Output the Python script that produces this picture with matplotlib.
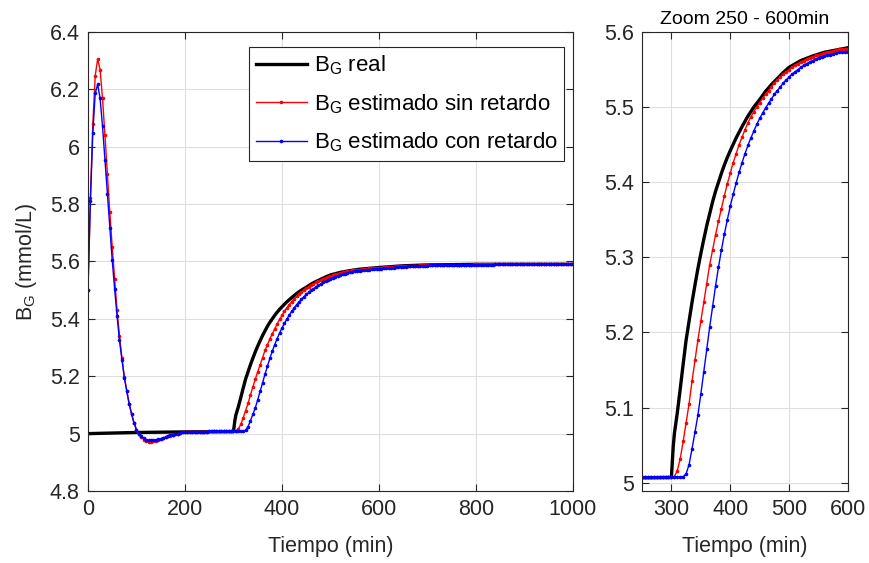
import numpy as np
import matplotlib
matplotlib.use('Agg')
import matplotlib.pyplot as plt

plt.rcParams['font.family'] = ['Liberation Sans', 'DejaVu Sans']
plt.rcParams['mathtext.fontset'] = 'custom'
plt.rcParams['mathtext.rm'] = 'Liberation Sans'

# --- datos ---
# muestreo de los estimadores cada 5 min
t_est = np.arange(0, 1001, 5)

bg_sin_retardo = [
    5.5, 5.82, 6.078, 6.248, 6.306, 6.269, 6.169, 6.041, 5.905, 5.773, 5.652, 5.539,
    5.43, 5.34, 5.265, 5.198, 5.149, 5.104, 5.068, 5.037, 5.013, 4.998, 4.987, 4.979,
    4.974, 4.972, 4.972, 4.973, 4.975, 4.978, 4.981, 4.984, 4.987, 4.99, 4.993, 4.996,
    4.998, 5.0, 5.002, 5.004, 5.005, 5.006, 5.006, 5.007, 5.007, 5.007, 5.007, 5.007,
    5.007, 5.007, 5.008, 5.008, 5.008, 5.008, 5.008, 5.008, 5.008, 5.008, 5.008, 5.008,
    5.008, 5.008, 5.016, 5.032, 5.055, 5.08, 5.105, 5.135, 5.163, 5.19, 5.215, 5.24,
    5.265, 5.29, 5.31, 5.33, 5.348, 5.365, 5.382, 5.398, 5.412, 5.426, 5.438, 5.45,
    5.46, 5.47, 5.479, 5.487, 5.494, 5.5, 5.506, 5.512, 5.517, 5.522, 5.527, 5.532,
    5.536, 5.54, 5.544, 5.547, 5.55, 5.553, 5.556, 5.558, 5.56, 5.562, 5.564, 5.566,
    5.567, 5.569, 5.57, 5.571, 5.572, 5.573, 5.574, 5.575, 5.576, 5.577, 5.577, 5.578,
    5.578, 5.579, 5.58, 5.58, 5.581, 5.582, 5.582, 5.583, 5.583, 5.584, 5.584, 5.585,
    5.585, 5.585, 5.586, 5.586, 5.586, 5.587, 5.587, 5.587, 5.588, 5.588, 5.588, 5.588,
    5.589, 5.589, 5.589, 5.589, 5.589, 5.589, 5.589, 5.589, 5.589, 5.589, 5.589, 5.589,
    5.589, 5.589, 5.589, 5.59, 5.59, 5.59, 5.59, 5.59, 5.59, 5.59, 5.59, 5.59,
    5.59, 5.59, 5.59, 5.59, 5.59, 5.59, 5.59, 5.59, 5.59, 5.59, 5.59, 5.59,
    5.59, 5.59, 5.59, 5.59, 5.59, 5.59, 5.59, 5.59, 5.59, 5.59, 5.59, 5.59,
    5.59, 5.59, 5.59, 5.59, 5.59, 5.59, 5.59, 5.59, 5.59,
]

bg_con_retardo = [
    5.5, 5.81, 6.047, 6.186, 6.218, 6.169, 6.072, 5.954, 5.835, 5.716, 5.605, 5.504,
    5.41, 5.325, 5.258, 5.195, 5.148, 5.103, 5.068, 5.037, 5.014, 5.0, 4.99, 4.983,
    4.979, 4.977, 4.977, 4.977, 4.978, 4.98, 4.982, 4.985, 4.988, 4.991, 4.994, 4.996,
    4.998, 5.0, 5.002, 5.004, 5.005, 5.006, 5.006, 5.007, 5.007, 5.007, 5.007, 5.007,
    5.007, 5.007, 5.008, 5.008, 5.008, 5.008, 5.008, 5.008, 5.008, 5.008, 5.008, 5.008,
    5.008, 5.008, 5.008, 5.008, 5.008, 5.012, 5.024, 5.045, 5.067, 5.09, 5.118, 5.148,
    5.178, 5.207, 5.235, 5.262, 5.287, 5.31, 5.331, 5.35, 5.368, 5.384, 5.399, 5.413,
    5.426, 5.438, 5.449, 5.459, 5.468, 5.477, 5.485, 5.492, 5.499, 5.505, 5.511, 5.517,
    5.522, 5.527, 5.532, 5.536, 5.54, 5.544, 5.547, 5.55, 5.553, 5.556, 5.558, 5.56,
    5.562, 5.564, 5.566, 5.567, 5.568, 5.569, 5.57, 5.571, 5.572, 5.573, 5.573, 5.574,
    5.574, 5.575, 5.576, 5.577, 5.578, 5.579, 5.579, 5.58, 5.581, 5.581, 5.582, 5.582,
    5.583, 5.583, 5.584, 5.584, 5.585, 5.585, 5.586, 5.586, 5.586, 5.587, 5.587, 5.587,
    5.588, 5.588, 5.588, 5.588, 5.588, 5.588, 5.588, 5.589, 5.589, 5.589, 5.589, 5.589,
    5.589, 5.589, 5.589, 5.589, 5.589, 5.589, 5.589, 5.589, 5.589, 5.589, 5.589, 5.589,
    5.59, 5.59, 5.59, 5.59, 5.59, 5.59, 5.59, 5.59, 5.59, 5.59, 5.59, 5.59,
    5.59, 5.59, 5.59, 5.59, 5.59, 5.59, 5.59, 5.59, 5.59, 5.59, 5.59, 5.59,
    5.59, 5.59, 5.59, 5.59, 5.59, 5.59, 5.59, 5.59, 5.59,
]

t_real = [0, 50, 100, 150, 200, 250, 300, 303, 305, 310, 315, 320, 325, 330, 335,
          340, 345, 350, 355, 360, 365, 370, 375, 380, 385, 390, 395, 400, 410, 420,
          430, 440, 450, 460, 470, 480, 490, 500, 520, 540, 560, 580, 600, 650, 700,
          750, 800, 900, 1000]
bg_real = [5.0, 5.002, 5.004, 5.005, 5.006, 5.0065, 5.007, 5.047, 5.065, 5.093, 5.125,
           5.158, 5.19, 5.215, 5.24, 5.263, 5.285, 5.305, 5.324, 5.342, 5.358, 5.374,
           5.388, 5.4, 5.412, 5.423, 5.433, 5.442, 5.459, 5.474, 5.488, 5.5, 5.51,
           5.521, 5.53, 5.538, 5.546, 5.553, 5.562, 5.568, 5.573, 5.576, 5.579, 5.585,
           5.588, 5.589, 5.59, 5.59, 5.59]

labels = [r'$\mathregular{B_G}$ real',
          r'$\mathregular{B_G}$ estimado sin retardo',
          r'$\mathregular{B_G}$ estimado con retardo']

AX_COLOR = '#262626'
FS = 15.5


def estilo_matlab(ax):
    # caja, ticks hacia dentro y rejilla suave como en MATLAB
    for s in ax.spines.values():
        s.set_color(AX_COLOR)
        s.set_linewidth(0.8)
    ax.tick_params(direction='in', top=True, right=True, length=5, width=0.8,
                   colors=AX_COLOR, labelsize=FS, labelcolor=AX_COLOR, pad=6)
    ax.grid(True, color='#dfdfdf', linewidth=0.8)
    ax.set_axisbelow(True)


def dibujar(ax):
    ax.plot(t_real, bg_real, color='k', linewidth=2.4, label=labels[0])
    ax.plot(t_est, bg_sin_retardo, color='r', linewidth=1.0, marker='.',
            markersize=3.2, label=labels[1])
    ax.plot(t_est, bg_con_retardo, color='b', linewidth=1.0, marker='.',
            markersize=3.2, label=labels[2])


fig = plt.figure(figsize=(8.7, 5.63), dpi=100)
ax1 = fig.add_axes([0.1011, 0.1279, 0.5575, 0.8153])
ax2 = fig.add_axes([0.7379, 0.1279, 0.2368, 0.8153])

dibujar(ax1)
ax1.set_xlim(0, 1000)
ax1.set_ylim(4.8, 6.4)
ax1.set_xticks([0, 200, 400, 600, 800, 1000])
yt = [4.8, 5.0, 5.2, 5.4, 5.6, 5.8, 6.0, 6.2, 6.4]
ax1.set_yticks(yt)
ax1.set_yticklabels(['%g' % v for v in yt])
ax1.set_xlabel('Tiempo (min)', fontsize=FS, color=AX_COLOR, labelpad=11)
ax1.set_ylabel(r'$\mathregular{B_G}$ (mmol/L)', fontsize=FS, color=AX_COLOR, labelpad=8)
estilo_matlab(ax1)
leg = ax1.legend(loc='upper right', bbox_to_anchor=(0.982, 0.968), fontsize=16,
                 fancybox=False, framealpha=1, edgecolor=AX_COLOR,
                 handlelength=2.3, borderpad=0.3, labelspacing=0.68,
                 handletextpad=0.3, borderaxespad=0)
leg.get_frame().set_linewidth(0.8)

dibujar(ax2)
ax2.set_xlim(250, 600)
ax2.set_ylim(4.989, 5.6)
ax2.set_xticks([300, 400, 500, 600])
yt2 = [5.0, 5.1, 5.2, 5.3, 5.4, 5.5, 5.6]
ax2.set_yticks(yt2)
ax2.set_yticklabels(['%g' % v for v in yt2])
ax2.set_xlabel('Tiempo (min)', fontsize=FS, color=AX_COLOR, labelpad=11)
ax2.set_title('Zoom 250 - 600min', fontsize=14, color='k', pad=6)
estilo_matlab(ax2)

fig.savefig('out.png', dpi=100)
